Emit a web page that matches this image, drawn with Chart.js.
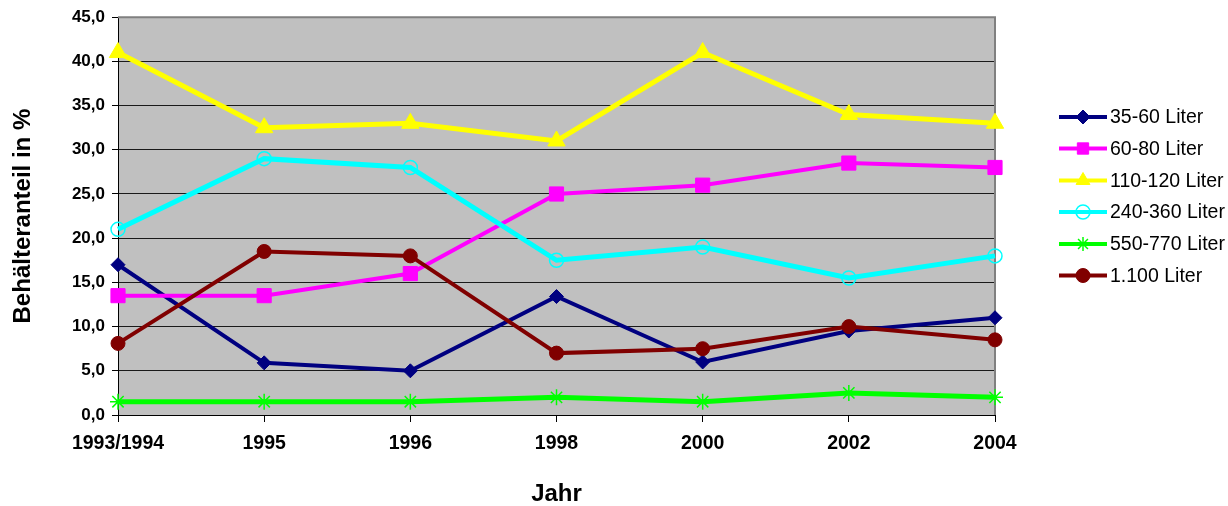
<!DOCTYPE html>
<html>
<head>
<meta charset="utf-8">
<script src="https://cdn.jsdelivr.net/npm/chart.js@4.4.0/dist/chart.umd.min.js"></script>
<style>
  html, body { margin: 0; padding: 0; background: #ffffff; }
  #wrap { width: 1228px; height: 506px; position: relative; }
</style>
</head>
<body>
<div id="wrap"><canvas id="c" width="1228" height="506"></canvas></div>
<script>
// ---- data ----
const categories = ['1993/1994', '1995', '1996', '1998', '2000', '2002', '2004'];
const seriesNames = ['35-60 Liter', '60-80 Liter', '110-120 Liter', '240-360 Liter', '550-770 Liter', '1.100 Liter'];
const s35_60   = [17.0, 5.9, 5.0, 13.4, 6.0, 9.5, 11.0];
const s60_80   = [13.5, 13.5, 16.0, 25.0, 26.0, 28.5, 28.0];
const s110_120 = [41.0, 32.5, 33.0, 31.0, 41.0, 34.0, 33.0];
const s240_360 = [21.0, 29.0, 28.0, 17.5, 19.0, 15.5, 18.0];
const s550_770 = [1.5, 1.5, 1.5, 2.0, 1.5, 2.5, 2.0];
const s1100    = [8.1, 18.5, 18.0, 7.0, 7.5, 10.0, 8.5];
const yTicks = { min: 0, max: 45, step: 5 };
const yTitle = 'Behälteranteil in %';
const xTitle = 'Jahr';

const FONT = '"Liberation Sans", Arial, sans-serif';

// ---- styles ----
const styles = [
  { color: '#000080', fill: '#000080', point: 'rectRot', r: 7,  lw: 4, pbw: 1 },
  { color: '#FF00FF', fill: '#FF00FF', point: 'rect',    r: 10, lw: 4, pbw: 1 },
  { color: '#FFFF00', fill: '#FFFF00', point: 'triangle',r: 10, lw: 5, pbw: 1 },
  { color: '#00FFFF', fill: 'rgba(0,0,0,0)', point: 'circle', r: 7, lw: 5, pbw: 1.5 },
  { color: '#00FF00', fill: '#00FF00', point: 'star',    r: 8,  lw: 5, pbw: 1.5 },
  { color: '#800000', fill: '#800000', point: 'circle',  r: 7,  lw: 4, pbw: 1 }
];
const allSeries = [s35_60, s60_80, s110_120, s240_360, s550_770, s1100];

const datasets = allSeries.map((d, i) => ({
  label: seriesNames[i],
  data: d,
  borderColor: styles[i].color,
  backgroundColor: styles[i].fill,
  pointBackgroundColor: styles[i].fill,
  pointBorderColor: styles[i].color,
  pointBorderWidth: styles[i].pbw,
  pointStyle: styles[i].point,
  pointRadius: styles[i].r,
  pointHoverRadius: styles[i].r,
  borderWidth: styles[i].lw,
  tension: 0,
  fill: false,
  clip: false,
  order: -i
}));

const plotBg = {
  id: 'plotBg',
  beforeDraw(chart) {
    const { ctx, chartArea: a } = chart;
    ctx.save();
    ctx.fillStyle = '#C0C0C0';
    ctx.fillRect(a.left, a.top, a.right - a.left, a.bottom - a.top);
    ctx.restore();
  },
  beforeDatasetsDraw(chart) {
    const { ctx, chartArea: a } = chart;
    ctx.save();
    ctx.strokeStyle = '#808080';
    ctx.lineWidth = 2;
    ctx.beginPath();
    ctx.moveTo(a.left, a.top);
    ctx.lineTo(a.right, a.top);
    ctx.lineTo(a.right, a.bottom);
    ctx.stroke();
    ctx.restore();
  }
};

function drawMarker(ctx, st, x, y) {
  ctx.save();
  ctx.fillStyle = st.fill;
  ctx.strokeStyle = st.color;
  ctx.lineWidth = st.pbw;
  Chart.helpers.drawPoint(ctx, { pointStyle: st.point, radius: st.r, borderWidth: st.pbw, rotation: 0 }, x, y);
  ctx.restore();
}

const customLegend = {
  id: 'customLegend',
  afterDraw(chart) {
    const ctx = chart.ctx;
    const x0 = 1059, x1 = 1107, tx = 1110;
    const ys = [117, 148.5, 180.5, 212, 244, 275.5];
    ctx.save();
    ctx.font = '19.5px ' + FONT;
    ctx.textBaseline = 'middle';
    ctx.textAlign = 'left';
    chart.data.datasets.forEach((ds, i) => {
      const y = ys[i];
      const st = styles[i];
      ctx.strokeStyle = st.color;
      ctx.lineWidth = 4;
      ctx.lineCap = 'butt';
      ctx.beginPath();
      ctx.moveTo(x0, y);
      ctx.lineTo(x1, y);
      ctx.stroke();
      const ms = Object.assign({}, st, { r: Math.min(st.r, 7) });
      if (st.point === 'triangle') ms.r = 8;
      if (st.point === 'rect') ms.r = 8;
      drawMarker(ctx, ms, (x0 + x1) / 2, y);
      ctx.fillStyle = '#000000';
      ctx.fillText(ds.label, tx, y + 1);
    });
    ctx.restore();
  }
};

new Chart(document.getElementById('c'), {
  type: 'line',
  data: { labels: categories, datasets },
  plugins: [plotBg, customLegend],
  options: {
    responsive: false,
    animation: false,
    devicePixelRatio: 1,
    layout: { padding: { top: 17, right: 233, left: 0, bottom: 0 } },
    plugins: { legend: { display: false }, tooltip: { enabled: false } },
    scales: {
      x: {
        type: 'category',
        offset: false,
        afterFit(scale) { scale.height = 91; },
        grid: { display: true, drawOnChartArea: false, drawTicks: true, tickLength: 7, color: '#000000' },
        border: { display: true, color: '#000000', width: 1 },
        ticks: { color: '#000000', font: { family: FONT, size: 19.5, weight: 'bold' }, padding: 10, maxRotation: 0, autoSkip: false },
        title: { display: true, text: xTitle, color: '#000000', font: { family: FONT, size: 24, weight: 'bold' }, padding: { top: 0, bottom: -3 } }
      },
      y: {
        min: yTicks.min, max: yTicks.max,
        afterFit(scale) { scale.width = 118; },
        grid: {
          color: (c) => (c.tick && c.tick.value === yTicks.max) ? 'rgba(0,0,0,0)' : '#1a1a1a',
          tickColor: '#000000',
          tickLength: 6,
          lineWidth: 1
        },
        border: { display: true, color: '#000000', width: 1 },
        ticks: {
          stepSize: yTicks.step,
          color: '#000000',
          padding: 7,
          font: { family: FONT, size: 17, weight: 'bold' },
          callback: (v) => Number(v).toFixed(1).replace('.', ',')
        },
        title: { display: true, text: yTitle, color: '#000000', font: { family: FONT, size: 24, weight: 'bold' }, padding: { top: 9, bottom: 0 } }
      }
    }
  }
});
</script>
</body>
</html>
